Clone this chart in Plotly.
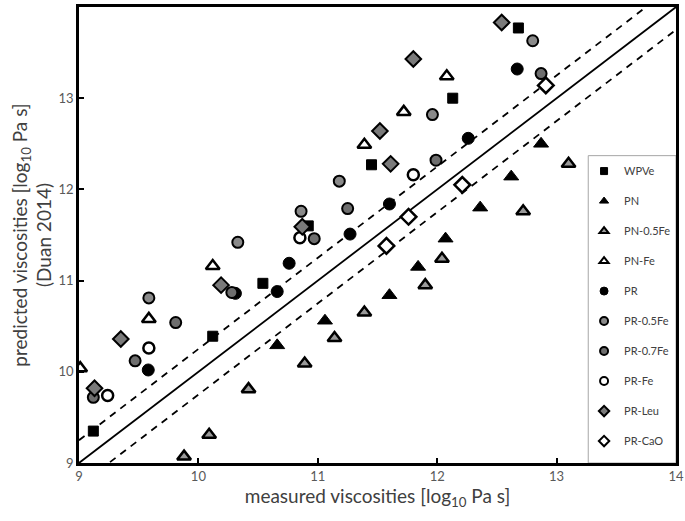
import plotly.graph_objects as go

# measured (x) vs predicted (y) viscosities, log10 Pa s
wpve_x = [9.12, 10.12, 10.54, 10.92, 11.45, 12.13, 12.68]
wpve_y = [9.35, 10.39, 10.97, 11.60, 12.27, 13.00, 13.77]

pn_x = [10.66, 11.06, 11.60, 11.84, 12.07, 12.36, 12.62, 12.87]
pn_y = [10.29, 10.56, 10.84, 11.15, 11.46, 11.80, 12.14, 12.50]

pn05_x = [9.88, 10.09, 10.42, 10.89, 11.14, 11.39, 11.90, 12.04, 12.72, 13.10]
pn05_y = [9.07, 9.31, 9.81, 10.09, 10.37, 10.65, 10.95, 11.24, 11.76, 12.28]

pnfe_x = [9.01, 9.585, 10.12, 11.39, 11.72, 12.08]
pnfe_y = [10.04, 10.58, 11.16, 12.49, 12.85, 13.24]

pr_x = [9.58, 10.31, 10.66, 10.76, 11.27, 11.60, 12.26, 12.67]
pr_y = [10.02, 10.86, 10.88, 11.19, 11.51, 11.84, 12.56, 13.32]

pr05_x = [9.585, 10.33, 10.86, 11.18, 11.96, 12.80]
pr05_y = [10.81, 11.42, 11.76, 12.09, 12.82, 13.63]

pr07_x = [9.12, 9.47, 9.81, 10.28, 10.97, 11.25, 11.99, 12.87]
pr07_y = [9.72, 10.12, 10.54, 10.87, 11.46, 11.79, 12.32, 13.27]

prfe_x = [9.24, 9.585, 10.85, 11.80]
prfe_y = [9.74, 10.26, 11.47, 12.16]

prleu_x = [9.13, 9.35, 10.19, 10.87, 11.52, 11.61, 11.80, 12.54]
prleu_y = [9.82, 10.36, 10.95, 11.59, 12.64, 12.28, 13.43, 13.83]

prcao_x = [11.575, 11.76, 12.21, 12.91]
prcao_y = [11.38, 11.70, 12.05, 13.14]

line_x = [9, 14]
offset = 0.25

fig = go.Figure()

# reference lines: 1:1 and +/- 0.25
fig.add_trace(go.Scatter(x=line_x, y=[v for v in line_x], mode="lines",
                         line=dict(color="black", width=1.8), showlegend=False, hoverinfo="skip"))
fig.add_trace(go.Scatter(x=line_x, y=[v + offset for v in line_x], mode="lines",
                         line=dict(color="black", width=1.8, dash="7px,6px"), showlegend=False, hoverinfo="skip"))
fig.add_trace(go.Scatter(x=line_x, y=[v - offset for v in line_x], mode="lines",
                         line=dict(color="black", width=1.8, dash="7px,6px"), showlegend=False, hoverinfo="skip"))

series = [
    ("WPVe", wpve_x, wpve_y, "square", "black", 10, 1, 1),
    ("PN", pn_x, pn_y, "triangle-up", "black", 13, 1, 1),
    ("PN-0.5Fe", pn05_x, pn05_y, "triangle-up", "#9a9a9a", 12, 2.5, 2),
    ("PN-Fe", pnfe_x, pnfe_y, "triangle-up", "white", 12, 2.5, 2),
    ("PR", pr_x, pr_y, "circle", "black", 12, 1, 1),
    ("PR-0.5Fe", pr05_x, pr05_y, "circle", "#8a8a8a", 11, 2, 2),
    ("PR-0.7Fe", pr07_x, pr07_y, "circle", "#6e6e6e", 11, 2, 2),
    ("PR-Fe", prfe_x, prfe_y, "circle", "white", 11, 2.5, 2),
    ("PR-Leu", prleu_x, prleu_y, "diamond", "#7a7a7a", 12, 2, 2),
    ("PR-CaO", prcao_x, prcao_y, "diamond", "white", 12, 2.5, 2),
]

for name, xs, ys, sym, fill, size, lw, llw in series:
    fig.add_trace(go.Scatter(
        x=xs, y=ys, mode="markers", name=name, legendgroup=name, showlegend=False,
        marker=dict(symbol=sym, color=fill, size=size,
                    line=dict(color="black", width=lw)),
    ))

# legend entries (legend swatches only, no data)
for name, xs, ys, sym, fill, size, lw, llw in series:
    fig.add_trace(go.Scatter(
        x=[None], y=[None], mode="markers", name=name, legendgroup=name,
        marker=dict(symbol=sym, color=fill, size=8 if sym != "square" else 7,
                    line=dict(color="black", width=llw)),
    ))

axis_common = dict(
    range=[9, 14], dtick=1, showgrid=False, zeroline=False,
    showline=True, linecolor="black", linewidth=2.5, mirror=True,
    ticks="inside", ticklen=5, tickwidth=1.5, tickcolor="black",
    tickfont=dict(size=13, color="#595959"),
)

fig.update_layout(
    width=685, height=521,
    margin=dict(l=79, r=9, t=7, b=58, autoexpand=False),
    paper_bgcolor="white", plot_bgcolor="white",
    font=dict(family="Lato, Open Sans, sans-serif", color="#404040"),
    xaxis=dict(**axis_common,
               title=dict(text="measured viscosities [log<sub>10</sub> Pa s]",
                          font=dict(size=19, color="#404040"), standoff=6)),
    yaxis=dict(**axis_common,
               title=dict(text="predicted viscosities [log<sub>10</sub> Pa s]<br>(Duan 2014)",
                          font=dict(size=19, color="#404040"), standoff=2)),
    legend=dict(x=0.846, y=0.672, xanchor="left", yanchor="top",
                bgcolor="rgba(0,0,0,0)", borderwidth=0,
                font=dict(size=11, color="#404040"),
                traceorder="grouped", tracegroupgap=11,
                itemwidth=30),
    showlegend=True,
    shapes=[dict(type="rect", xref="paper", yref="paper",
                 x0=0.853, x1=1.0, y0=0.0, y1=0.674,
                 line=dict(color="#a6a6a6", width=1), fillcolor="white", layer="below")],
)

# remove the default page margin so the 685x521 figure fills the window exactly
fig.write_html("out.html", config={"displayModeBar": False},
               post_script="document.body.style.margin='0';document.body.style.overflow='hidden';")
